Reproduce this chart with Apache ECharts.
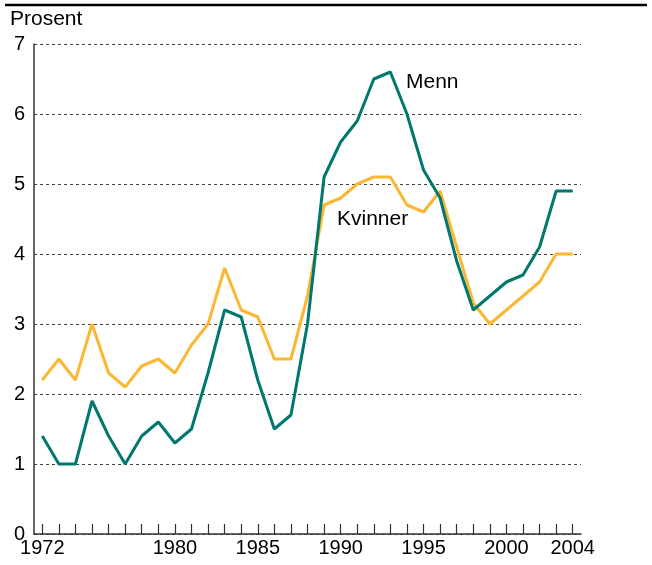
<!DOCTYPE html>
<html>
<head>
<meta charset="utf-8">
<script src="https://cdn.jsdelivr.net/npm/echarts@6/dist/echarts.min.js"></script>
<style>
html,body{margin:0;padding:0;background:#fff;}
#chart{width:652px;height:565px;}
</style>
</head>
<body>
<div id="chart"></div>
<script>
const years = ['1972','1973','1974','1975','1976','1977','1978','1979','1980','1981','1982','1983','1984','1985','1986','1987','1988','1989','1990','1991','1992','1993','1994','1995','1996','1997','1998','1999','2000','2001','2002','2003','2004'];
const menn = [1.4,1.0,1.0,1.9,1.4,1.0,1.4,1.6,1.3,1.5,2.3,3.2,3.1,2.2,1.5,1.7,3.0,5.1,5.6,5.9,6.5,6.6,6.0,5.2,4.8,3.9,3.2,3.4,3.6,3.7,4.1,4.9,4.9];
const kvinner = [2.2,2.5,2.2,3.0,2.3,2.1,2.4,2.5,2.3,2.7,3.0,3.8,3.2,3.1,2.5,2.5,3.4,4.7,4.8,5.0,5.1,5.1,4.7,4.6,4.9,4.1,3.3,3.0,3.2,3.4,3.6,4.0,4.0];
const shownYears = ['1972','1980','1985','1990','1995','2000','2004'];
const yTicks = [0,1,2,3,4,5,6,7];

const font = 'Liberation Sans, Arial, sans-serif';
const chart = echarts.init(document.getElementById('chart'), null, {renderer:'canvas'});
chart.setOption({
  animation:false,
  backgroundColor:'#fff',
  grid:{left:34,right:71,top:44,bottom:31,containLabel:false},
  graphic:[
    {type:'line',shape:{x1:5,y1:5,x2:647,y2:5},style:{stroke:'#000',lineWidth:2.5}},
    {type:'text',left:10,top:9,style:{text:'Prosent',font:'21px '+font,fill:'#000'}},
    {type:'text',left:406,top:72,style:{text:'Menn',font:'21px '+font,fill:'#000'}},
    {type:'text',left:337,top:209,style:{text:'Kvinner',font:'21px '+font,fill:'#000'}}
  ],
  xAxis:{
    type:'category',
    data:years,
    boundaryGap:true,
    axisLine:{show:true,lineStyle:{color:'#333',width:1.5}},
    axisTick:{show:true,inside:true,length:10,alignWithLabel:true,interval:0,lineStyle:{color:'#333',width:1.2}},
    axisLabel:{
      interval:function(i,v){return shownYears.indexOf(v)>=0;},
      color:'#000',fontSize:20,fontFamily:font,margin:4
    },
    splitLine:{show:false}
  },
  yAxis:{
    type:'value',
    min:yTicks[0],max:yTicks[yTicks.length-1],interval:1,
    axisLine:{show:true,lineStyle:{color:'#333',width:1.5}},
    axisTick:{show:false},
    axisLabel:{color:'#000',fontSize:20,fontFamily:font,margin:9},
    splitLine:{show:true,lineStyle:{color:'#444',type:[3,3],width:1}}
  },
  series:[
    {name:'Kvinner',type:'line',data:kvinner,symbol:'none',lineStyle:{color:'#FBB732',width:3},itemStyle:{color:'#FBB732'},z:2},
    {name:'Menn',type:'line',data:menn,symbol:'none',lineStyle:{color:'#00776F',width:3},itemStyle:{color:'#00776F'},z:3}
  ]
});
</script>
</body>
</html>
